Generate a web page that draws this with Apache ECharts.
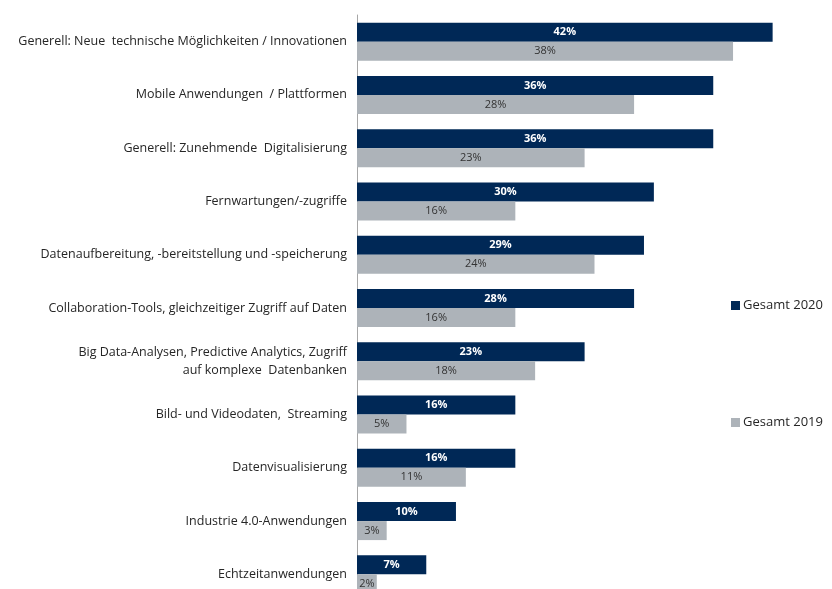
<!DOCTYPE html>
<html>
<head>
<meta charset="utf-8">
<script src="https://cdn.jsdelivr.net/npm/echarts@6/dist/echarts.min.js"></script>
<style>
  html, body { margin: 0; padding: 0; background: #ffffff; overflow: hidden; }
  /* plot area runs past the lower window edge, so the last bar is cut off */
  #chart { width: 832px; height: 601px; }
</style>
</head>
<body>
<div id="chart"></div>
<script>
// Themes listed top to bottom
const categories = [
  'Generell: Neue  technische Möglichkeiten / Innovationen',
  'Mobile Anwendungen  / Plattformen',
  'Generell: Zunehmende  Digitalisierung',
  'Fernwartungen/-zugriffe',
  'Datenaufbereitung, -bereitstellung und -speicherung',
  'Collaboration-Tools, gleichzeitiger Zugriff auf Daten',
  'Big Data-Analysen, Predictive Analytics, Zugriff\nauf komplexe  Datenbanken',
  'Bild- und Videodaten,  Streaming',
  'Datenvisualisierung',
  'Industrie 4.0-Anwendungen',
  'Echtzeitanwendungen'
];
const values2020 = [42, 36, 36, 30, 29, 28, 23, 16, 16, 10, 7];
const values2019 = [38, 28, 23, 16, 24, 16, 18, 5, 11, 3, 2];
const seriesNames = ['Gesamt 2020', 'Gesamt 2019'];

const NAVY = '#002856';
const GREY = '#adb3b9';
const FONT = '"Open Sans", "Liberation Sans", Arial, sans-serif';

const chart = echarts.init(document.getElementById('chart'), null, { renderer: 'canvas' });

chart.setOption({
  animation: false,
  backgroundColor: '#ffffff',
  textStyle: { fontFamily: FONT },
  grid: { left: 357, top: 15, right: 0, bottom: 0, containLabel: false },
  xAxis: {
    type: 'value', min: 0, max: 48,
    show: false
  },
  yAxis: {
    type: 'category',
    inverse: true,
    data: categories,
    axisLine: { show: true, lineStyle: { color: '#a6a6a6', width: 1 } },
    axisTick: { show: false },
    axisLabel: {
      color: '#262626', fontSize: 12.5, fontFamily: FONT,
      margin: 10, lineHeight: 18, align: 'right'
    }
  },
  legend: {
    orient: 'vertical',
    left: 726, top: 294,
    itemWidth: 9, itemHeight: 9, itemGap: 104,
    icon: 'rect',
    textStyle: { color: '#262626', fontSize: 13, fontFamily: FONT, padding: [0, 0, 0, -2] },
    data: seriesNames
  },
  series: [
    {
      name: seriesNames[0], type: 'bar', data: values2020,
      barWidth: 19, barGap: '0%',
      itemStyle: { color: NAVY },
      label: { show: true, position: 'inside', formatter: '{c}%', color: '#ffffff', fontWeight: 'bold', fontSize: 11, fontFamily: FONT }
    },
    {
      name: seriesNames[1], type: 'bar', data: values2019,
      barWidth: 19, barGap: '0%',
      itemStyle: { color: GREY },
      label: { show: true, position: 'inside', formatter: '{c}%', color: '#333333', fontSize: 11, fontFamily: FONT }
    }
  ]
});
</script>
</body>
</html>
